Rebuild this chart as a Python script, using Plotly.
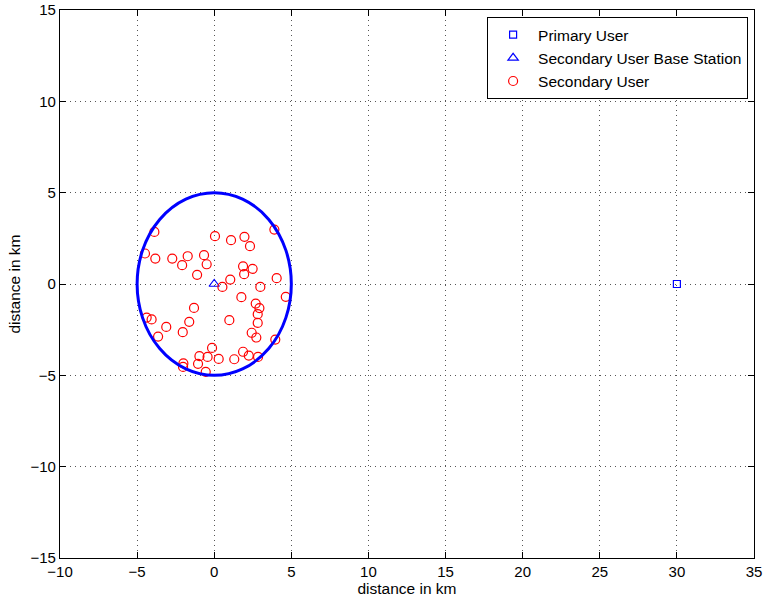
import plotly.graph_objects as go

# Node positions (km)
primary_x = [30]
primary_y = [0]
base_x = [0]
base_y = [0]
su_x = [-3.88, 3.90, 0.05, 1.09, 1.96, 2.32, -4.49, -3.82, -2.72, -1.72,
        -2.08, -0.66, -0.49, 1.87, 2.49, 1.94, -1.11, 1.04, 4.05, 0.53,
        2.99, 4.64, 1.76, 2.69, 2.93, -1.31, 2.82, -4.38, -4.06, 0.98,
        -1.62, 2.82, -3.11, -2.04, 2.43, 2.73, -3.64, 3.96, -0.14, 1.87,
        2.24, 2.84, -0.96, -0.43, 0.29, 1.30, -2.00, -2.02, -1.05, -0.55]
su_y = [2.85, 2.98, 2.62, 2.40, 2.58, 2.07, 1.67, 1.39, 1.39, 1.52,
        1.03, 1.58, 1.08, 0.97, 0.83, 0.54, 0.50, 0.24, 0.32, -0.16,
        -0.16, -0.70, -0.72, -1.07, -1.32, -1.31, -1.65, -1.84, -1.94, -1.98,
        -2.07, -2.13, -2.35, -2.64, -2.67, -2.93, -2.88, -3.04, -3.50, -3.71,
        -3.92, -3.99, -3.95, -3.99, -4.10, -4.12, -4.35, -4.54, -4.37, -4.81]
cell_radius = 5

x_ticks = [-10, -5, 0, 5, 10, 15, 20, 25, 30, 35]
y_ticks = [-15, -10, -5, 0, 5, 10, 15]

FONT = "Liberation Sans, Arial, Helvetica, sans-serif"

fig = go.Figure()
fig.add_trace(go.Scatter(
    x=primary_x, y=primary_y, mode="markers", name="Primary User",
    marker=dict(symbol="square-open", size=7, color="blue", line=dict(width=1.2)),
))
fig.add_trace(go.Scatter(
    x=base_x, y=base_y, mode="markers", name="Secondary User Base Station",
    marker=dict(symbol="triangle-up-open", size=9, color="blue", line=dict(width=1.2)),
))
fig.add_trace(go.Scatter(
    x=su_x, y=su_y, mode="markers", name="Secondary User",
    marker=dict(symbol="circle-open", size=9, color="red", line=dict(width=1.2)),
))

# Cell boundary around the base station
fig.add_shape(type="circle", xref="x", yref="y",
              x0=base_x[0] - cell_radius, x1=base_x[0] + cell_radius,
              y0=base_y[0] - cell_radius, y1=base_y[0] + cell_radius,
              line=dict(color="blue", width=3), layer="above")

axis_common = dict(
    showgrid=True, gridcolor="#555555", griddash="1px,4px", gridwidth=1,
    zeroline=False, showline=True, linecolor="black", linewidth=1.3, mirror="ticks",
    ticks="inside", ticklen=6, tickcolor="black", automargin=False,
    tickfont=dict(family=FONT, size=15, color="black"),
)

fig.update_layout(
    width=764, height=601,
    margin=dict(l=60, r=10, t=10, b=43),
    paper_bgcolor="white", plot_bgcolor="white",
    font=dict(family=FONT, color="black"),
    xaxis=dict(range=[-10, 35], tickvals=x_ticks,
               title=dict(text="distance in km", font=dict(size=15.5), standoff=0),
               **axis_common),
    yaxis=dict(range=[-15, 15], tickvals=y_ticks,
               title=dict(text="distance in km", font=dict(size=15.5), standoff=5),
               **axis_common),
    legend=dict(x=0.9915, y=0.987, xanchor="right", yanchor="top",
                bgcolor="white", bordercolor="black", borderwidth=1,
                font=dict(family=FONT, size=15.5), tracegroupgap=0,
                itemwidth=40),
    showlegend=True,
)

fig.write_html("out.html")
